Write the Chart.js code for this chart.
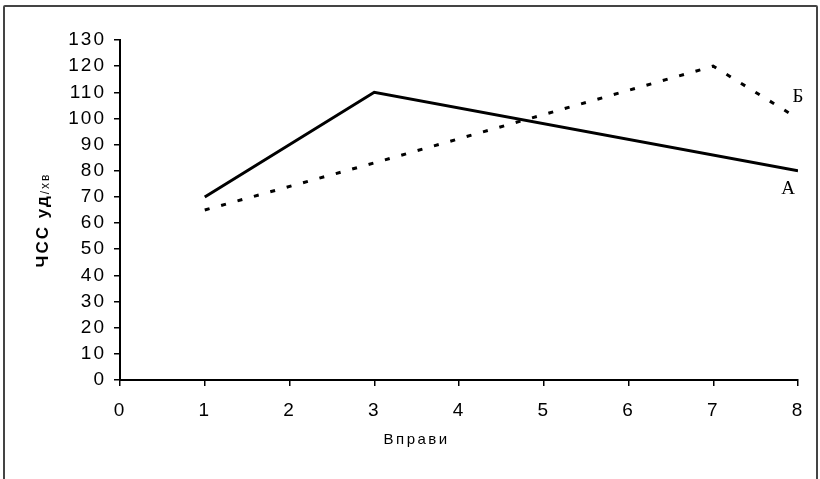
<!DOCTYPE html>
<html>
<head>
<meta charset="utf-8">
<script src="https://cdn.jsdelivr.net/npm/chart.js@4"></script>
<style>
  html, body { margin: 0; padding: 0; background: #fff; }
  #wrap { position: relative; width: 820px; height: 479px; overflow: hidden; }
  #frame { position: absolute; left: 3px; top: 5px; width: 815px; height: 490px; border: 2px solid #444; border-radius: 2px; box-sizing: border-box; }
  canvas { position: absolute; left: 0; top: 0; }
</style>
</head>
<body>
<div id="wrap">
  <div id="frame"></div>
  <canvas id="c" width="820" height="479"></canvas>
</div>
<script>
const seriesA_x = [1, 3, 8];
const seriesA_y = [70, 110, 80];
const seriesB_x = [1, 3, 7, 8];
const seriesB_y = [65, 83, 120, 100];
const seriesNames = ['А', 'Б'];
const xTitle = 'Вправи';
const yTitleMain = 'ЧСС уд';
const yTitleUnit = '/хв';

const toPts = (xs, ys) => xs.map((x, i) => ({ x: x, y: ys[i] }));

const spacing = {
  id: 'spacing',
  beforeInit(chart) { chart.ctx.letterSpacing = '2px'; },
  beforeUpdate(chart) { chart.ctx.letterSpacing = '2px'; },
  beforeDraw(chart) { chart.ctx.letterSpacing = '2px'; }
};

const endLabels = {
  id: 'endLabels',
  afterDatasetsDraw(chart) {
    const ctx = chart.ctx;
    ctx.save();
    ctx.letterSpacing = '0px';
    ctx.fillStyle = '#000';
    ctx.font = '19px "Liberation Serif", "Times New Roman", serif';
    ctx.textAlign = 'center';
    ctx.textBaseline = 'middle';
    const offs = [[-10, 18], [0, -21]];
    chart.data.datasets.forEach((ds, i) => {
      const meta = chart.getDatasetMeta(i);
      const p = meta.data[meta.data.length - 1];
      ctx.fillText(ds.label, p.x + offs[i][0], p.y + offs[i][1]);
    });
    ctx.restore();
  }
};

const titles = {
  id: 'titles',
  afterDraw(chart) {
    const ctx = chart.ctx;
    const ca = chart.chartArea;
    ctx.save();
    ctx.fillStyle = '#000';
    // y title
    ctx.save();
    ctx.translate(43, (ca.top + ca.bottom) / 2 + 10);
    ctx.rotate(-Math.PI / 2);
    ctx.textBaseline = 'middle';
    ctx.letterSpacing = '2px';
    const f1 = 'bold 17px "Liberation Sans", Arial, sans-serif';
    const f2 = '12px "Liberation Sans", Arial, sans-serif';
    ctx.font = f1;
    const w1 = ctx.measureText(yTitleMain).width;
    ctx.font = f2;
    const w2 = ctx.measureText(yTitleUnit).width;
    const start = -(w1 + w2) / 2;
    ctx.font = f1;
    ctx.textAlign = 'left';
    ctx.fillText(yTitleMain, start, 0);
    ctx.font = f2;
    ctx.fillText(yTitleUnit, start + w1, 3);
    ctx.restore();
    // x title
    ctx.letterSpacing = '2.5px';
    ctx.font = '15px "Liberation Sans", Arial, sans-serif';
    ctx.textAlign = 'center';
    ctx.textBaseline = 'middle';
    ctx.fillText(xTitle, chart.scales.x.getPixelForValue(3.5) + 0, ca.bottom + 60);
    ctx.restore();
  }
};

new Chart(document.getElementById('c'), {
  type: 'scatter',
  data: {
    datasets: [
      {
        label: seriesNames[0],
        data: toPts(seriesA_x, seriesA_y),
        showLine: true,
        borderColor: '#000',
        borderWidth: 3,
        pointRadius: 0,
        tension: 0,
        fill: false
      },
      {
        label: seriesNames[1],
        data: toPts(seriesB_x, seriesB_y),
        showLine: true,
        borderColor: '#000',
        borderWidth: 3,
        borderDash: [5, 12],
        pointRadius: 0,
        tension: 0,
        fill: false
      }
    ]
  },
  options: {
    responsive: false,
    animation: false,
    devicePixelRatio: 1,
    layout: { padding: { left: 0, right: 22, top: 40, bottom: 30 } },
    plugins: { legend: { display: false }, tooltip: { enabled: false } },
    scales: {
      x: {
        type: 'linear',
        min: 0, max: 8,
        afterFit(s) { s.height = 69; },
        ticks: { stepSize: 1, color: '#000', padding: 13, font: { family: '"Liberation Sans", Arial, sans-serif', size: 19 } },
        grid: { drawOnChartArea: false, color: '#000', tickLength: 6, lineWidth: 1.5 },
        border: { color: '#000', width: 2 }
      },
      y: {
        min: 0, max: 130,
        afterFit(s) { s.width = 120; },
        ticks: { stepSize: 10, color: '#000', padding: 8, font: { family: '"Liberation Sans", Arial, sans-serif', size: 19 } },
        grid: { drawOnChartArea: false, color: '#000', tickLength: 6, lineWidth: 1.5 },
        border: { color: '#000', width: 2 }
      }
    }
  },
  plugins: [spacing, endLabels, titles]
});
</script>
</body>
</html>
